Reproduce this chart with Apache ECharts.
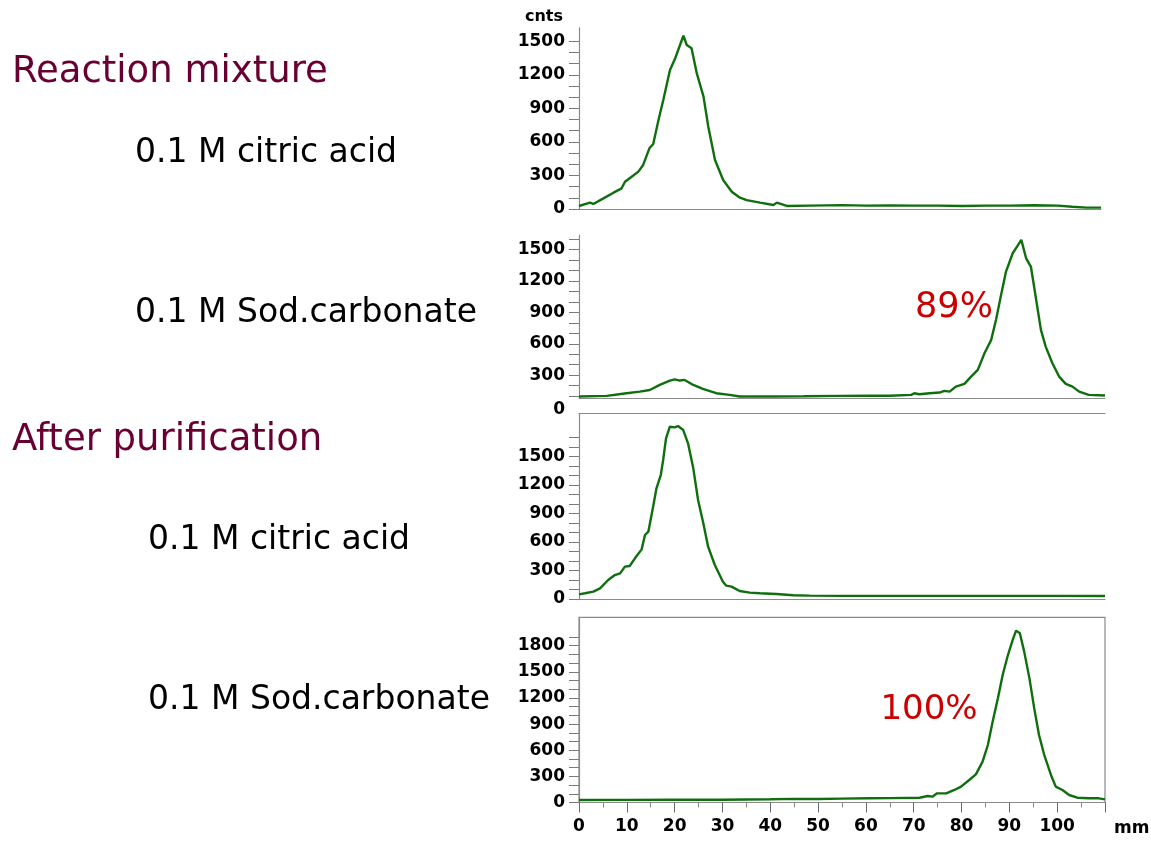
<!DOCTYPE html>
<html>
<head>
<meta charset="utf-8">
<script src="https://cdn.jsdelivr.net/npm/echarts@6/dist/echarts.min.js"></script>
<style>
html,body{margin:0;padding:0;background:#fff;}
#c{width:1151px;height:841px;}
</style>
</head>
<body>
<div id="c"></div>
<script>
// ---------- DATA (position along strip in mm, counts) ----------
// Panel 1: Reaction mixture, 0.1 M citric acid
const p1Mm   = [0, 2.3, 3.0, 5.1, 7.2, 8.9, 9.6, 11.0, 12.4, 13.4, 14.7, 15.5, 16.6, 17.6, 19.0, 20.0, 21.8, 22.5, 23.5, 24.6, 26.0, 27.0, 28.4, 30.1, 31.9, 33.6, 35.0, 37.8, 40.6, 41.3, 43.4, 48.2, 55, 60, 65, 70, 75, 80, 85, 90, 95, 100, 103, 106, 109];
const p1Cnts = [27, 57, 45, 95, 146, 185, 244, 289, 334, 394, 543, 581, 796, 975, 1243, 1339, 1550, 1467, 1437, 1213, 1005, 736, 438, 259, 155, 101, 80, 57, 36, 57, 27, 30, 35, 30, 32, 30, 30, 27, 30, 30, 33, 30, 20, 12, 12];
// Panel 2: Reaction mixture, 0.1 M Sod.carbonate
const p2Mm   = [0, 5.8, 9.95, 12.7, 14.8, 16.9, 19.0, 20.0, 21.1, 22.1, 23.9, 25.9, 28.7, 31.5, 33.6, 40.6, 47, 54.5, 60.75, 65, 69.5, 70.1, 71.2, 73.3, 75.4, 76.4, 77.5, 78.8, 80.6, 82.0, 83.4, 84.8, 86.2, 87.2, 88.2, 89.3, 90.7, 91.7, 92.5, 93.5, 94.5, 95.5, 96.6, 97.6, 99.0, 100.4, 101.8, 103.2, 104.6, 106.6, 110];
const p2Cnts = [95, 101, 127, 142, 158, 206, 248, 260, 248, 254, 206, 168, 127, 111, 95, 95, 97, 101, 104, 103, 111, 126, 117, 126, 133, 149, 142, 190, 216, 286, 350, 509, 637, 828, 1052, 1291, 1466, 1536, 1594, 1418, 1339, 1052, 733, 573, 414, 286, 216, 190, 142, 111, 105];
// Panel 3: After purification, 0.1 M citric acid
const p3Mm   = [0, 1.25, 3.0, 4.4, 6.1, 7.5, 8.6, 9.6, 10.6, 11.7, 13.1, 13.8, 14.5, 15.5, 16.2, 17.1, 17.6, 18.2, 19.0, 20.0, 20.7, 21.8, 22.8, 23.9, 24.9, 26.0, 27.0, 28.4, 30.1, 30.8, 31.9, 33.6, 35.7, 37.8, 41.3, 44.8, 48.2, 55, 60, 70, 80, 90, 100, 110];
const p3Cnts = [49, 60, 77, 112, 200, 252, 270, 340, 347, 428, 522, 673, 708, 971, 1164, 1304, 1462, 1689, 1812, 1805, 1819, 1777, 1637, 1374, 1041, 796, 550, 358, 182, 140, 130, 84, 67, 60, 53, 39, 35, 33, 33, 33, 33, 33, 33, 32];
// Panel 4: After purification, 0.1 M Sod.carbonate
const p4Mm   = [0, 10, 20, 30, 40, 45, 50, 55, 60.75, 65, 71.2, 72.9, 73.9, 74.9, 76.8, 78.5, 79.9, 81.6, 83.0, 84.4, 85.5, 86.5, 87.6, 88.6, 89.7, 90.7, 91.4, 92.2, 93.1, 94.2, 95.2, 96.2, 97.3, 98.7, 99.7, 101.1, 102.5, 104.2, 106.6, 108.7, 110];
const p4Cnts = [28, 30, 33, 32, 38, 42, 40, 45, 48, 50, 55, 75, 67, 105, 105, 144, 182, 258, 323, 469, 660, 928, 1196, 1464, 1693, 1866, 1973, 1942, 1732, 1425, 1081, 775, 545, 316, 182, 144, 86, 55, 48, 48, 36];

// tick labels
const xTickLabels = [0, 10, 20, 30, 40, 50, 60, 70, 80, 90, 100];
const y1Labels = [0, 300, 600, 900, 1200, 1500];
const y2Labels = [300, 600, 900, 1200, 1500];
const y3Labels = [0, 300, 600, 900, 1200, 1500];
const y4Labels = [0, 300, 600, 900, 1200, 1500, 1800];
const y1Ticks = [0,100,200,300,400,500,600,700,800,900,1000,1100,1200,1300,1400,1500];
const y2Ticks = [100,200,300,400,500,600,700,800,900,1000,1100,1200,1300,1400,1500,1600];
const y3Ticks = [0,100,200,300,400,500,600,700,800,900,1000,1100,1200,1300,1400,1500,1600,1700];
const y4Ticks = [0,100,200,300,400,500,600,700,800,900,1000,1100,1200,1300,1400,1500,1600,1700,1800,1900];

// text
const titles = ['Reaction mixture', 'After purification'];
const sampleNames = ['0.1 M citric acid', '0.1 M Sod.carbonate', '0.1 M citric acid', '0.1 M Sod.carbonate'];
const yieldLabels = ['89%', '100%'];
const yUnit = 'cnts';
const xUnit = 'mm';

// ---------- CHART ----------
const FONT = "'Comic Sans MS', 'DejaVu Sans', sans-serif";
const AXIS_GRAY = '#8a8a8a';
const LINE_GREEN = '#0f6f0f';
const chart = echarts.init(document.getElementById('c'), null, {renderer: 'canvas'});

function pairs(xs, ys) { return xs.map((x, i) => [x, ys[i]]); }
const plain = v => String(v);

function yAxisFor(grid, min, max, labels, ticks, extra) {
  return Object.assign({
    type: 'value', gridIndex: grid, min: min, max: max,
    splitLine: {show: false},
    axisLine: {show: true, lineStyle: {color: AXIS_GRAY, width: 1.2}},
    axisTick: {show: true, length: 10, customValues: ticks, lineStyle: {color: '#7a7a7a', width: 1}},
    axisLabel: {customValues: labels, formatter: plain, margin: 14, fontSize: 17, fontWeight: 'bold', color: '#000', fontFamily: FONT, padding: [7, 0, 0, 0]}
  }, extra || {});
}
function plainX(grid, max, pos) {
  return {
    type: 'value', gridIndex: grid, min: 0, max: max, position: pos || 'bottom',
    splitLine: {show: false},
    axisLine: {show: true, onZero: false, lineStyle: {color: AXIS_GRAY, width: 1.2}},
    axisTick: {show: false}, axisLabel: {show: false}
  };
}
function lineSeries(idx, data) {
  return {
    type: 'line', xAxisIndex: idx, yAxisIndex: idx, data: data,
    symbol: 'none', smooth: false, animation: false,
    lineStyle: {color: LINE_GREEN, width: 2.4}
  };
}

const option = {
  backgroundColor: '#fff',
  animation: false,
  grid: [
    {left: 579, top: 27.9, width: 522, height: 181.1},
    {left: 579, top: 235.1, width: 526, height: 163},
    {left: 579, top: 413.6, width: 526, height: 185.4},
    {left: 579, top: 617.4, width: 526, height: 185.1, show: true, borderColor: AXIS_GRAY, borderWidth: 1.2}
  ],
  xAxis: [
    plainX(0, 109),
    plainX(1, 110),
    plainX(2, 110),
    {
      type: 'value', gridIndex: 3, min: 0, max: 110, interval: 10,
      splitLine: {show: false},
      axisLine: {show: true, onZero: false, lineStyle: {color: AXIS_GRAY, width: 1.2}},
      axisTick: {show: true, length: 10, lineStyle: {color: '#6a6a6a'}},
      minorTick: {show: true, splitNumber: 2, length: 5, lineStyle: {color: '#8a8a8a'}},
      axisLabel: {customValues: xTickLabels, formatter: plain, margin: 16, fontSize: 17, fontWeight: 'bold', color: '#000', fontFamily: FONT},
      name: xUnit, nameLocation: 'end', nameGap: 9,
      nameTextStyle: {fontSize: 17, fontWeight: 'bold', color: '#000', fontFamily: FONT, align: 'left', verticalAlign: 'top', padding: [18, 0, 0, 0]}
    },
    plainX(2, 110, 'top')
  ],
  yAxis: [
    yAxisFor(0, 0, 1620, y1Labels, y1Ticks, {
      name: yUnit, nameLocation: 'end', nameGap: 11,
      nameTextStyle: {fontSize: 16, fontWeight: 'bold', color: '#000', fontFamily: FONT, align: 'right', verticalAlign: 'middle', padding: [0, 16, 0, 0]}
    }),
    yAxisFor(1, 80, 1640, y2Labels, y2Ticks),
    yAxisFor(2, 0, 1950, y3Labels, y3Ticks),
    yAxisFor(3, 0, 2125, y4Labels, y4Ticks)
  ],
  series: [
    lineSeries(0, pairs(p1Mm, p1Cnts)),
    lineSeries(1, pairs(p2Mm, p2Cnts)),
    lineSeries(2, pairs(p3Mm, p3Cnts)),
    lineSeries(3, pairs(p4Mm, p4Cnts))
  ]
};
chart.setOption(option);

// panel 2's "0" tick label sits below its clipped axis
const zeroY = chart.convertToPixel({yAxisIndex: 1}, 0);

function txt(text, x, y, size, color, align, weight) {
  return {type: 'text', x: x, y: y, silent: true,
    style: {text: text, fill: color, fontSize: size, fontWeight: weight || 'normal', fontFamily: FONT, align: align || 'left', verticalAlign: 'middle'}};
}
const MAROON = '#690032';
chart.setOption({
  graphic: [
    txt(titles[0], 12, 72, 37, MAROON),
    txt(titles[1], 12, 440, 37, MAROON),
    txt(sampleNames[0], 135, 153, 33, '#000'),
    txt(sampleNames[1], 135, 313, 33, '#000'),
    txt(sampleNames[2], 148, 540, 33, '#000'),
    txt(sampleNames[3], 148, 700, 33, '#000'),
    txt(yieldLabels[0], 954, 308, 35, '#cc0000', 'center'),
    txt(yieldLabels[1], 929, 710, 34, '#cc0000', 'center'),
    txt('0', 565, zeroY + 3.5, 17, '#000', 'right', 'bold')
  ]
});
</script>
</body>
</html>
